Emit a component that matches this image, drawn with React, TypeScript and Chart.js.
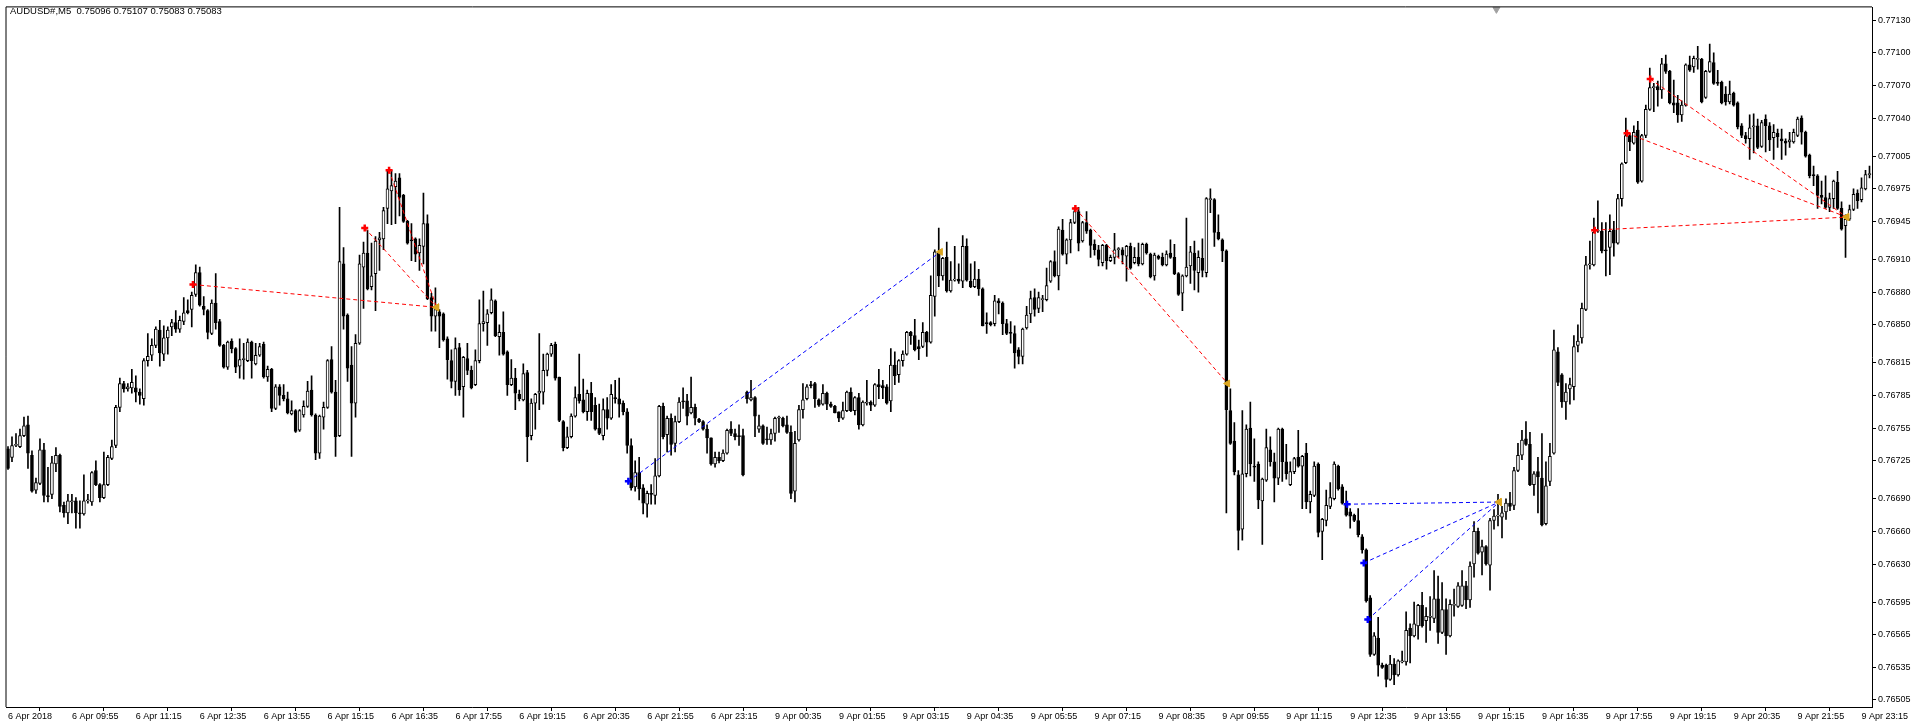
import { useEffect, useRef } from 'react';
import { Chart, registerables } from 'chart.js';

Chart.register(...registerables);

const SYMBOL_TEXT = 'AUDUSD#,M5  0.75096 0.75107 0.75083 0.75083';
const PRICE_BASE = 0.765;
const POINT = 0.00001;

// OHLC in points above PRICE_BASE, one entry per M5 bar (6 Apr 08:35 ... 9 Apr 23:25)
const opens = [
  236,228,239,238,248,258,230,198,204,235, 193,194,222,230,184,177,187,188,177,176,
  188,187,216,203,191,203,227,239,274,296, 291,292,292,288,282,317,322,331,345,323,
  338,348,352,346,353,363,364,378,398,367, 363,342,370,353,331,311,335,328,312,318,
  317,334,314,322,332,302,309,273,293,285, 282,268,271,253,267,275,290,267,232,265,
  274,318,288,248,406,359,313,278,333,403, 416,385,397,428,429,457,473,477,485,469,
  445,428,429,416,422,443,375,358,362,360, 337,317,298,329,293,319,308,295,317,351,
  352,361,372,339,343,325,295,301,286,281, 306,248,278,287,288,308,323,332,302,261,
  237,247,266,286,281,270,287,276,255,248, 272,264,283,282,278,270,239,201,214,200,
  185,195,193,211,275,249,264,241,261,280, 280,269,274,263,261,254,246,222,228,225,
  232,254,250,248,248,288,281,283,254,257, 245,244,250,264,264,258,251,197,244,272,
  282,295,296,281,277,287,277,275,270,264, 271,288,271,283,258,278,279,276,295,294,
  293,280,313,304,317,323,343,340,330,330, 343,334,376,416,395,412,381,391,392,390,
  422,390,385,392,383,352,352,351,372,370, 351,343,342,327,321,347,360,375,365,373,
  373,390,408,395,437,415,428,444,454,427, 444,437,424,419,407,423,409,412,419,419,
  413,422,407,412,406,424,415,395,413,412, 405,416,412,397,379,395,404,416,398,411,
  398,465,465,435,428,418,271,243,212,162, 213,255,220,222,188,207,235,224,209,254,
  224,203,215,228,220,232,187,193,222,160, 170,183,190,220,201,186,178,175,170,155,
  143,99,47,62,37,37,24,38,28,40, 40,71,64,73,92,78,81,80,98,67,
  88,64,92,91,92,110,97,130,160,141, 146,129,170,174,173,178,186,184,216,230,
  245,240,203,215,209,167,206,232,325,304, 279,291,293,331,338,364,405,405,436,436,
  419,421,437,425,466,499,524,517,529,482, 524,548,568,569,566,590,583,554,554,543,
  552,589,587,594,594,559,583,591,573,573, 562,555,563,554,533,524,521,532,533,514,
  539,533,522,526,521,519,518,518,524,540, 527,506,488,487,469,467,458,466,481,457,
  441,447,456,471,465,475,488,
];

const highs = [
  238,247,250,254,265,266,234,209,245,241, 219,229,237,231,187,194,194,191,188,212,
  194,215,225,204,233,230,244,276,301,298, 296,309,303,291,319,342,337,348,354,349,
  348,355,363,358,375,373,380,405,403,376, 364,373,397,355,332,335,337,329,337,333,
  337,335,333,333,334,312,310,295,295,295, 288,280,272,272,280,298,303,268,267,279,
  318,330,299,458,421,360,330,341,414,426, 437,425,431,435,458,492,492,489,489,470,
  446,443,430,429,471,451,379,384,364,361, 339,327,338,333,321,333,312,327,373,381,
  364,383,373,350,362,326,318,310,290,314, 308,282,287,342,323,324,333,334,302,262,
  256,268,293,323,300,290,297,283,277,282, 283,295,299,301,280,273,245,225,228,203,
  197,203,227,276,278,266,268,266,283,292, 286,302,277,264,262,258,246,233,233,235,
  254,261,254,258,254,289,299,284,267,258, 256,254,265,266,265,266,257,252,276,296,
  295,298,297,282,295,288,279,276,270,279, 289,292,284,287,280,299,280,296,309,299,
  295,328,325,318,326,344,344,355,336,352, 344,395,419,439,412,426,408,422,406,432,
  429,406,408,401,384,361,353,377,374,371, 355,353,349,329,347,367,381,383,380,377,
  402,409,418,440,447,429,447,458,458,445, 454,438,428,423,424,424,414,434,421,421,
  423,425,421,425,425,425,416,416,414,416, 418,428,424,398,396,448,422,427,418,429,
  467,475,466,451,429,419,291,260,216,271, 258,279,245,224,209,254,247,232,255,255,
  240,224,228,253,230,241,197,224,223,172, 198,205,224,221,203,197,181,176,181,157,
  144,101,67,81,39,38,46,43,42,50, 86,75,95,93,104,90,100,124,119,113,
  98,97,107,113,124,114,132,169,163,152, 147,172,180,194,183,190,196,219,241,253,
  261,251,215,228,250,224,241,345,329,305, 296,301,340,350,370,413,427,448,464,444,
  444,451,445,470,499,540,526,533,537,525, 552,586,572,574,595,598,584,575,561,556,
  590,597,597,606,595,584,608,600,584,574, 569,574,564,555,535,527,543,544,539,538,
  543,536,534,530,530,521,527,530,541,542, 528,507,496,488,482,487,471,483,491,463,
  451,460,475,474,485,492,496,
];

const lows = [
  217,224,238,237,247,218,196,195,203,187, 187,190,215,178,173,167,177,163,163,175,
  186,184,202,187,190,202,226,237,270,288, 289,287,279,277,276,312,317,329,312,317,
  323,340,343,343,350,360,348,376,367,359, 337,341,346,330,310,309,324,306,301,300,
  316,301,313,321,301,298,270,272,276,280, 268,267,251,252,265,274,266,226,227,254,
  273,287,229,247,346,298,229,265,332,365, 382,382,363,400,419,443,442,443,450,444,
  424,409,408,400,406,373,344,344,329,335, 300,292,285,285,265,304,291,294,315,344,
  331,360,339,322,322,285,294,272,280,280, 224,244,254,272,277,303,321,299,261,234,
  236,246,265,278,269,262,262,253,249,244, 254,263,278,265,267,232,198,197,189,176,
  173,185,185,210,245,233,230,233,260,273, 258,268,258,260,253,232,221,219,223,224,
  231,248,244,239,211,278,280,247,251,240, 240,240,243,251,256,250,190,187,243,264,
  281,292,274,275,276,272,274,269,261,263, 270,270,267,254,257,276,271,275,282,282,
  277,270,295,297,312,322,332,326,318,329, 321,333,358,385,391,380,380,390,388,384,
  390,384,384,377,349,342,349,349,360,341, 341,333,310,314,314,346,352,358,361,362,
  372,389,394,382,414,406,416,443,418,426, 434,412,414,404,404,401,408,406,412,406,
  390,401,406,404,405,415,393,391,410,404, 404,411,396,377,363,394,388,382,380,394,
  394,453,422,428,408,177,240,212,143,152, 210,211,206,181,148,206,220,187,203,206,
  208,202,213,219,181,181,177,192,155,134, 165,181,189,198,185,174,163,169,155,140,
  95,45,46,27,34,17,23,19,27,39, 37,39,63,61,72,58,69,76,57,66,
  47,63,82,90,91,89,90,118,139,120, 129,106,162,165,154,171,179,180,215,226,
  239,202,193,177,165,166,202,231,294,274, 263,277,281,325,333,363,401,404,435,416,
  395,396,413,424,459,498,510,516,480,481, 522,547,546,551,558,581,553,545,536,537,
  551,583,582,585,554,558,582,571,570,553, 552,553,551,530,522,517,502,508,512,513,
  509,510,502,513,502,506,513,517,523,516, 504,485,478,457,461,457,454,457,456,437,
  412,446,455,457,463,474,485,
];

const closes = [
  218,239,240,248,257,232,197,205,235,193, 192,223,230,183,177,188,188,177,176,188,
  189,214,203,191,203,228,238,274,296,291, 293,297,288,285,317,321,331,346,324,338,
  345,352,346,354,361,361,377,398,368,364, 343,370,352,331,311,334,328,311,318,319,
  334,317,322,330,302,309,273,293,285,282, 269,271,252,271,275,289,267,232,266,274,
  317,288,247,408,358,310,278,333,406,416, 383,395,427,430,455,475,478,482,467,445,
  425,427,415,423,443,374,358,364,358,336, 318,298,328,290,320,308,292,317,351,353,
  360,373,340,343,323,295,301,287,282,305, 247,278,286,289,308,323,331,301,262,237,
  247,266,283,280,270,287,270,254,250,272, 264,286,282,277,270,239,200,214,199,186,
  195,194,211,275,247,264,240,261,279,279, 266,274,264,261,254,246,222,228,225,232,
  253,250,247,247,212,282,283,266,257,241, 244,250,264,265,257,251,195,241,272,281,
  293,294,282,276,287,277,275,269,264,271, 288,271,283,258,279,279,276,295,293,292,
  278,313,303,317,323,343,340,327,328,343, 334,377,417,395,411,381,391,392,390,422,
  391,385,392,383,349,351,350,372,370,351, 342,342,324,321,346,359,374,364,375,374,
  386,408,395,438,415,428,444,454,425,444, 436,423,419,410,423,409,412,419,420,414,
  422,402,412,406,424,416,394,414,411,405, 415,412,397,378,395,403,417,400,412,400,
  466,466,435,429,418,272,241,215,161,213, 254,222,219,189,208,237,224,209,254,224,
  213,215,227,220,229,187,194,220,159,171, 184,191,222,199,186,175,174,170,157,143,
  96,47,64,37,35,24,38,28,41,41, 69,64,75,92,73,82,82,98,67,88,
  64,93,93,110,110,97,128,160,140,146, 130,170,174,175,177,186,183,216,230,244,
  240,203,213,210,166,202,229,327,297,279, 288,295,330,335,365,405,406,435,437,418,
  418,436,425,466,498,524,518,527,481,524, 548,568,569,566,590,583,554,552,543,552,
  589,584,595,595,555,583,592,572,572,554, 555,562,552,532,524,521,531,533,513,536,
  533,520,527,523,519,517,520,527,539,527, 505,487,487,469,467,458,466,482,457,438,
  447,456,470,464,476,488,489,
];

const yTickPrices = [
  0.7713, 0.771, 0.7707, 0.7704, 0.77005, 0.76975, 0.76945, 0.7691, 0.7688, 0.7685, 0.76815,
  0.76785, 0.76755, 0.76725, 0.7669, 0.7666, 0.7663, 0.76595, 0.76565, 0.76535, 0.76505,
];

const xTickLabels = [
  '6 Apr 2018', '6 Apr 09:55', '6 Apr 11:15', '6 Apr 12:35', '6 Apr 13:55', '6 Apr 15:15',
  '6 Apr 16:35', '6 Apr 17:55', '6 Apr 19:15', '6 Apr 20:35', '6 Apr 21:55', '6 Apr 23:15',
  '9 Apr 00:35', '9 Apr 01:55', '9 Apr 03:15', '9 Apr 04:35', '9 Apr 05:55', '9 Apr 07:15',
  '9 Apr 08:35', '9 Apr 09:55', '9 Apr 11:15', '9 Apr 12:35', '9 Apr 13:55', '9 Apr 15:15',
  '9 Apr 16:35', '9 Apr 17:55', '9 Apr 19:15', '9 Apr 20:35', '9 Apr 21:55', '9 Apr 23:15',
];
const BARS_PER_LABEL = 16;

// Trend lines: anchor bar (index) and price (points above base)
const trendColors = ['#ff0000', '#ff0000', '#ff0000', '#0000ff', '#ff0000', '#0000ff', '#0000ff', '#0000ff', '#ff0000', '#ff0000', '#ff0000'];
const trendStartBar = [46.3, 89.3, 95.4, 155.3, 267.2, 335.2, 339.4, 340.4, 397.2, 405.3, 411.1];
const trendStartPts = [387, 439, 492, 206, 457, 185, 131, 79, 437, 526, 576];
const trendEndBar = [107.3, 107.3, 107.3, 233.4, 305.3, 373.3, 373.3, 373.3, 460.3, 460.3, 460.3];
const trendEndPts = [366, 366, 366, 417, 296, 187, 187, 187, 449, 449, 449];

// chart-shift marker at top
const shiftMarkerBar = 372.6;
const shiftMarkerPts = 640;

const FONT = "'Liberation Sans', Arial, sans-serif";

export default function App() {
  const canvasRef = useRef<HTMLCanvasElement>(null);

  useEffect(() => {
    if (!canvasRef.current) return;
    const toPrice = (p: number) => PRICE_BASE + p * POINT;
    const n = Math.min(opens.length, highs.length, lows.length, closes.length);
    const wicks = [];
    const bodies = [];
    const bodyFill = [];
    for (let i = 0; i < n; i++) {
      wicks.push({ x: i, y: [toPrice(lows[i]), toPrice(highs[i])] });
      bodies.push({ x: i, y: [toPrice(opens[i]), toPrice(closes[i])] });
      bodyFill.push(closes[i] > opens[i] ? '#ffffff' : '#000000');
    }

    const lineSets: any[] = trendStartBar.map((sb, k) => ({
      type: 'line',
      data: [
        { x: sb, y: toPrice(trendStartPts[k]) },
        { x: trendEndBar[k], y: toPrice(trendEndPts[k]) },
      ],
      borderColor: trendColors[k],
      borderWidth: 1,
      borderDash: [4, 3],
      fill: false,
      tension: 0,
      pointStyle: ['cross', 'triangle'],
      pointRotation: [0, -90],
      pointRadius: [3.5, 4],
      pointBorderColor: [trendColors[k], '#DAA520'],
      pointBackgroundColor: [trendColors[k], '#DAA520'],
      pointBorderWidth: [2.5, 1],
      order: 1,
      clip: false,
    }));

    const framePlugin = {
      id: 'frame',
      afterDatasetsDraw(chart: any) {
        const { ctx, chartArea } = chart;
        const { left, top, right, bottom } = chartArea;
        ctx.save();
        ctx.strokeStyle = '#000';
        ctx.lineWidth = 1;
        ctx.beginPath();
        ctx.moveTo(left - 0.5, bottom);
        ctx.lineTo(left - 0.5, top - 0.5);
        ctx.lineTo(right, top - 0.5);
        ctx.stroke();
        ctx.restore();
      },
    };

    const chart = new Chart(canvasRef.current, {
      type: 'bar',
      data: {
        datasets: [
          {
            type: 'bar',
            data: wicks as any,
            backgroundColor: '#000000',
            borderWidth: 0,
            barThickness: 1,
            grouped: false,
            order: 3,
          } as any,
          {
            type: 'bar',
            data: bodies as any,
            backgroundColor: bodyFill,
            borderColor: '#000000',
            borderWidth: 1,
            borderSkipped: false,
            barThickness: 3,
            minBarLength: 1,
            grouped: false,
            order: 2,
          } as any,
          ...lineSets,
          {
            type: 'line',
            data: [{ x: shiftMarkerBar, y: toPrice(shiftMarkerPts) }],
            showLine: false,
            pointStyle: 'triangle',
            pointRotation: 180,
            pointRadius: 4,
            pointBackgroundColor: '#a0a0a0',
            pointBorderColor: '#a0a0a0',
            order: 0,
            clip: false,
          } as any,
        ],
      },
      options: {
        animation: false,
        responsive: false,
        devicePixelRatio: 1,
        events: [],
        layout: { padding: { left: 4, top: 2, right: 0, bottom: 0 } },
        plugins: {
          legend: { display: false },
          tooltip: { enabled: false },
          title: { display: false },
        },
        scales: {
          x: {
            type: 'linear',
            min: -0.375,
            max: 466.625,
            offset: false,
            bounds: 'data',
            grid: { drawOnChartArea: false, drawTicks: true, tickLength: 4, color: '#000000' },
            border: { display: true, color: '#000000', width: 1 },
            ticks: {
              autoSkip: false,
              maxRotation: 0,
              minRotation: 0,
              align: 'start',
              padding: 0,
              color: '#000000',
              font: { family: FONT, size: 9 },
              callback: (_v: any, i: number) => xTickLabels[i] ?? '',
            },
            afterBuildTicks: (s: any) => {
              s.ticks = xTickLabels.map((_, i) => ({ value: i * BARS_PER_LABEL }));
            },
            afterFit: (s: any) => {
              s.height = 16;
            },
          } as any,
          y: {
            type: 'linear',
            position: 'right',
            min: 0.7649854,
            max: 0.771418,
            bounds: 'data',
            grid: { drawOnChartArea: false, drawTicks: true, tickLength: 4, color: '#000000' },
            border: { display: true, color: '#000000', width: 1 },
            ticks: {
              autoSkip: false,
              padding: 2,
              color: '#000000',
              font: { family: FONT, size: 9 },
              callback: (v: any) => Number(v).toFixed(5),
            },
            afterBuildTicks: (s: any) => {
              s.ticks = yTickPrices.map((v) => ({ value: v }));
            },
            afterFit: (s: any) => {
              s.width = 48;
            },
          } as any,
        },
      },
      plugins: [framePlugin],
    });

    return () => chart.destroy();
  }, []);

  return (
    <div style={{ position: 'fixed', left: 0, top: 0, width: 1920, height: 723, background: '#ffffff' }}>
      <canvas ref={canvasRef} width={1920} height={723} style={{ display: 'block' }} />
      <div
        style={{
          position: 'absolute',
          left: 10,
          top: 5,
          fontFamily: FONT,
          fontSize: '9.5px',
          lineHeight: '11px',
          color: '#000000',
          whiteSpace: 'pre',
        }}
      >
        {SYMBOL_TEXT}
      </div>
    </div>
  );
}
